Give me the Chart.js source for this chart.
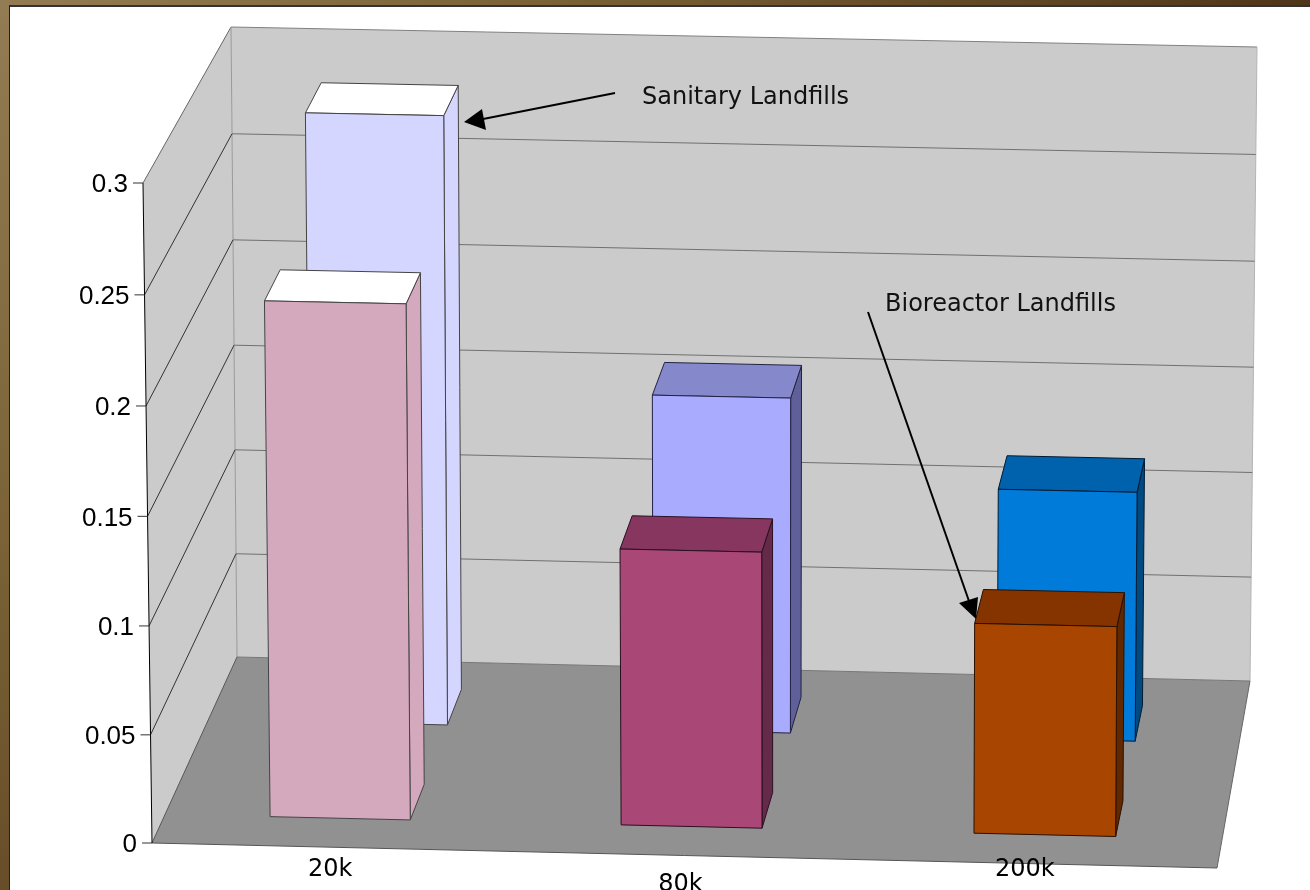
<!DOCTYPE html>
<html>
<head>
<meta charset="utf-8">
<title>Landfills</title>
<script src="https://cdn.jsdelivr.net/npm/chart.js@4/dist/chart.umd.min.js"></script>
<style>
    html, body { margin: 0; padding: 0; width: 1310px; height: 890px; overflow: hidden; background: #fff; }
    #frame {
        position: absolute; left: 0; top: 0; width: 1310px; height: 890px;
        background: linear-gradient(135deg, #937c53 0%, #7a6236 25%, #4f3519 60%, #4c3218 100%);
    }
    #sheet {
        position: absolute; left: 9px; top: 5px; width: 1301px; height: 885px;
        background: #fff; border-left: 1px solid #222; border-top: 2px solid #333; box-sizing: border-box;
    }
    #chart { position: absolute; left: 0; top: 0; }
</style>
</head>
<body>
<div id="frame"></div>
<div id="sheet"></div>
<canvas id="chart" width="1310" height="890"></canvas>
<script>
// Chart data
const categories = ["20k", "80k", "200k"];
const bioreactorValues = [0.237, 0.1275, 0.097];
const sanitaryValues = [0.2855, 0.158, 0.1175];
const yTicks = { min: 0, max: 0.3, step: 0.05 };

// Bar colours per category
const bioreactorFront = ["#d5a9bd", "#a94777", "#a84500"];
const bioreactorTop = ["#ffffff", "#87365f", "#853400"];
const bioreactorSide = ["#d5a9bd", "#652a49", "#622800"];
const sanitaryFront = ["#d4d6ff", "#a9abff", "#007bd9"];
const sanitaryTop = ["#ffffff", "#8688cc", "#0062ac"];
const sanitarySide = ["#d4d6ff", "#5f6099", "#004a82"];

// Corners of the box the chart sits in (front/back, bottom/top, left/right)
const box = {
    fbl: [152, 843], fbr: [1217, 868], ftl: [143, 183], ftr: [1222, 205],
    bbl: [237, 657], bbr: [1250, 681], btl: [231, 27], btr: [1257, 47]
};

// Depth range of each row of bars, 0 is the front edge of the floor, 1 the back wall
const rowDepth = [[0.155, 0.346], [0.665, 0.856]];

// Foreshortening across and up the box
const uFore = 0.992;
const vFore = 0.98;

function mix(a, b, t) {
    return [a[0] + (b[0] - a[0]) * t, a[1] + (b[1] - a[1]) * t];
}

function foreshorten(t, k) {
    return t * k / (1 + (k - 1) * t);
}

// u across the categories, v up the value axis, d into the depth
function project(u, v, d) {
    const s = foreshorten(u, uFore);
    const h = foreshorten(v, vFore);
    const front = mix(mix(box.fbl, box.fbr, s), mix(box.ftl, box.ftr, s), h);
    const back = mix(mix(box.bbl, box.bbr, s), mix(box.btl, box.btr, s), h);
    return mix(front, back, d);
}

function poly(ctx, points, fill, stroke) {
    ctx.beginPath();
    points.forEach((p, i) => i ? ctx.lineTo(p[0], p[1]) : ctx.moveTo(p[0], p[1]));
    ctx.closePath();
    if (fill) { ctx.fillStyle = fill; ctx.fill(); }
    if (stroke) { ctx.strokeStyle = stroke; ctx.lineWidth = 1; ctx.stroke(); }
}

function line(ctx, a, b, color, width) {
    ctx.beginPath();
    ctx.moveTo(a[0], a[1]);
    ctx.lineTo(b[0], b[1]);
    ctx.strokeStyle = color;
    ctx.lineWidth = width || 1;
    ctx.stroke();
}

function valueToV(chart, value) {
    const y = chart.scales.y;
    return (y.bottom - y.getPixelForValue(value)) / (y.bottom - y.top);
}

// Walls, floor, grid lines and the value axis
const walls = {
    id: "walls",
    beforeDatasetsDraw(chart) {
        const ctx = chart.ctx;
        ctx.save();
        poly(ctx, [box.bbl, box.bbr, box.btr, box.btl], "#cbcbcb");
        poly(ctx, [box.fbl, box.bbl, box.btl, box.ftl], "#cbcbcb");
        poly(ctx, [box.fbl, box.fbr, box.bbr, box.bbl], "#919191");

        line(ctx, box.btl, box.btr, "#808080");
        line(ctx, box.btr, box.bbr, "#b4b4b4");
        line(ctx, box.ftl, box.btl, "#666666");
        line(ctx, box.btl, box.bbl, "#999999");
        line(ctx, box.fbl, box.bbl, "#555555");
        line(ctx, box.bbl, box.bbr, "#777777");
        line(ctx, box.bbr, box.fbr, "#666666");
        line(ctx, box.fbl, box.fbr, "#555555");

        chart.scales.y.ticks.forEach(tick => {
            if (tick.value === yTicks.min || tick.value >= yTicks.max) return;
            const v = valueToV(chart, tick.value);
            line(ctx, project(0, v, 0), project(0, v, 1), "#333333");
            line(ctx, project(0, v, 1), project(1, v, 1), "#707070");
        });

        line(ctx, box.ftl, box.fbl, "#000000");
        ctx.restore();
    }
};

// Each bar is a box built from the bar element the library laid out
const bars3d = {
    id: "bars3d",
    beforeDatasetDraw(chart, args) {
        const ctx = chart.ctx;
        const area = chart.chartArea;
        const ds = chart.data.datasets[args.index];
        const depth = rowDepth[ds.row];
        ctx.save();
        args.meta.data.forEach((bar, i) => {
            const u0 = (bar.x - bar.width / 2 - area.left) / area.width;
            const u1 = (bar.x + bar.width / 2 - area.left) / area.width;
            const v = (bar.base - bar.y) / area.height;
            const d0 = depth[0], d1 = depth[1];
            const edge = ds.edgeColor[i];
            poly(ctx, [project(u1, 0, d0), project(u1, 0, d1), project(u1, v, d1), project(u1, v, d0)], ds.sideColor[i], edge);
            poly(ctx, [project(u0, v, d0), project(u1, v, d0), project(u1, v, d1), project(u0, v, d1)], ds.topColor[i], edge);
            poly(ctx, [project(u0, 0, d0), project(u1, 0, d0), project(u1, v, d0), project(u0, v, d0)], ds.backgroundColor[i], edge);
        });
        ctx.restore();
        return false;
    }
};

// Axis labels follow the slanted edges, and the two callouts sit on top
const labels3d = {
    id: "labels3d",
    afterDatasetsDraw(chart) {
        const ctx = chart.ctx;
        ctx.save();

        ctx.font = "26px 'Liberation Sans'";
        ctx.textAlign = "right";
        ctx.textBaseline = "middle";
        ctx.fillStyle = "#000";
        chart.scales.y.ticks.forEach(tick => {
            const p = project(0, valueToV(chart, tick.value), 0);
            line(ctx, [p[0] - 10, p[1]], p, "#333333");
            ctx.fillText(String(+tick.value.toFixed(2)), p[0] - 15, p[1] + 2);
        });

        const xNudge = [-6, -8, -16];
        const xRow = [870, 885, 870];
        ctx.font = "24px 'DejaVu Sans'";
        ctx.textAlign = "center";
        categories.forEach((name, i) => {
            ctx.fillText(name, chart.scales.x.getPixelForValue(i) + xNudge[i], xRow[i]);
        });

        ctx.font = "24px 'DejaVu Sans'";
        ctx.textAlign = "left";
        ctx.fillStyle = "#111";
        ctx.fillText(chart.data.datasets[1].label, 642, 98);
        ctx.fillText(chart.data.datasets[0].label, 885, 305);

        line(ctx, [615, 93], [478, 120], "#000000", 2);
        poly(ctx, [[464, 122], [482, 109], [486, 130]], "#000000");
        line(ctx, [868, 312], [970, 604], "#000000", 2);
        poly(ctx, [[976, 619], [959, 603], [978, 597]], "#000000");
        ctx.restore();
    }
};

new Chart(document.getElementById("chart"), {
    type: "bar",
    data: {
        labels: categories,
        datasets: [
            {
                label: "Bioreactor Landfills", data: bioreactorValues, row: 0,
                backgroundColor: bioreactorFront, topColor: bioreactorTop, sideColor: bioreactorSide,
                edgeColor: ["#444444", "#2a1020", "#2a1000"]
            },
            {
                label: "Sanitary Landfills", data: sanitaryValues, row: 1,
                backgroundColor: sanitaryFront, topColor: sanitaryTop, sideColor: sanitarySide,
                edgeColor: ["#444444", "#222244", "#001a33"]
            }
        ]
    },
    options: {
        responsive: false,
        animation: false,
        events: [],
        layout: { padding: { left: 152, right: 93, top: 183, bottom: 47 } },
        datasets: { bar: { grouped: false, categoryPercentage: 0.4, barPercentage: 1 } },
        plugins: { legend: { display: false }, tooltip: { enabled: false } },
        scales: {
            x: { grid: { display: false }, border: { display: false }, ticks: { display: false } },
            y: {
                min: yTicks.min, max: yTicks.max,
                grid: { display: false }, border: { display: false },
                ticks: { display: false, stepSize: yTicks.step }
            }
        }
    },
    plugins: [walls, bars3d, labels3d]
});
</script>
</body>
</html>
